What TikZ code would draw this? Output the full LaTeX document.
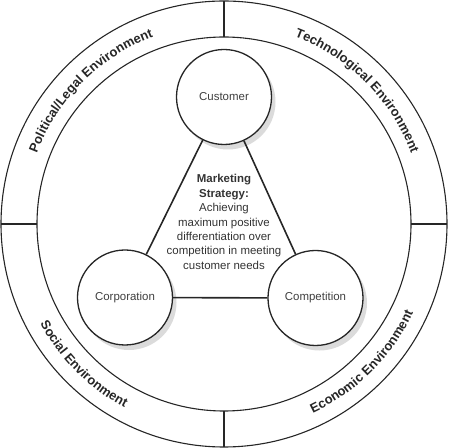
\documentclass[tikz,border=0pt]{standalone}
\usepackage{fontspec}
\setmainfont{Liberation Sans}
\usepackage{tikz}
\usetikzlibrary{shadows, decorations.text}
\newcommand\envfont{\fontsize{13}{13}\selectfont\bfseries}

\begin{document}
\begin{tikzpicture}[x=1bp, y=1bp,
    force/.style={circle, draw=black!85, line width=1.3bp, fill=white, minimum size=95bp, inner sep=0pt,
        text=black!75, font=\fontsize{11.5}{14}\selectfont,
        drop shadow={shadow xshift=4bp, shadow yshift=-5bp, fill=black!28}},
    link/.style={draw=black!85, line width=1.6bp},
    ring/.style={draw=black!85, line width=1.1bp},
    envlabel/.style={decorate, decoration={text along path, text align=center, text color=black!85, text={|\envfont|#1}}}]
    \useasboundingbox (-224,-224) rectangle (225,224);

    % Environment rings
    \draw[ring] (0,0) circle[radius=223];
    \draw[ring] (0,0) circle[radius=187];
    \foreach \a in {0,90,180,270}
        \draw[ring] (\a:187) -- (\a:223);

    % Ring labels
    \path[envlabel={Political/Legal Environment}] (180:200) arc[start angle=180, end angle=90, radius=200];
    \path[envlabel={Technological Environment}] (90:200) arc[start angle=90, end angle=0, radius=200];
    \path[envlabel={Social Environment}] (180:209) arc[start angle=180, end angle=270, radius=209];
    \path[envlabel={Economic Environment}] (270:209) arc[start angle=270, end angle=360, radius=209];

    % Forces
    \node[force] (customer) at (0,127) {Customer};
    \node[force] (corporation) at (-99,-73.5) {Corporation};
    \node[force] (competition) at (91.5,-74) {Competition};

    % Links
    \draw[link] (customer) -- (corporation);
    \draw[link] (customer) -- (competition);
    \draw[link] (corporation) -- (competition);

    % Strategy
    \node[text=black!80, align=center, font=\fontsize{11.5}{14.5}\selectfont] (strategy) at (0,2)
        {\textbf{Marketing}\\\textbf{Strategy:}\\Achieving\\maximum positive\\differentiation over\\competition in meeting\\customer needs};
\end{tikzpicture}
\end{document}
